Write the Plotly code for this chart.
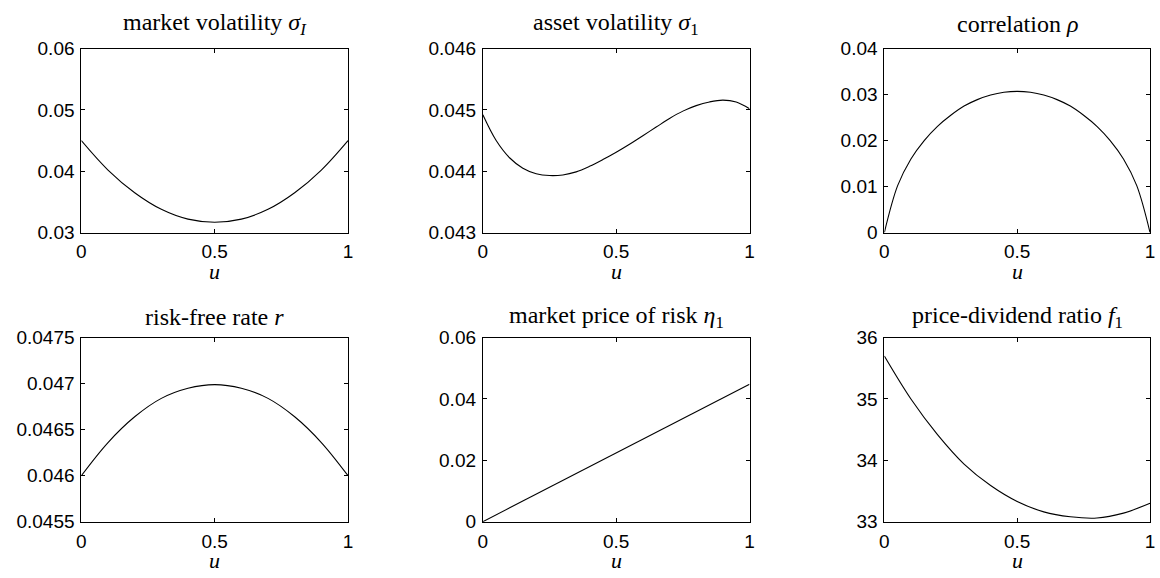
import plotly.graph_objects as go

W, H = 1160, 578

# ---- data ----
u_grid = [0.0, 0.1, 0.2, 0.3, 0.4, 0.5, 0.6, 0.7, 0.8, 0.9, 1.0]

sigma_I = [0.0450, 0.0402, 0.0365, 0.0338, 0.0322, 0.0317, 0.0322, 0.0338, 0.0365, 0.0402, 0.0450]

u_sigma1 = [0.0, 0.05, 0.1, 0.15, 0.2, 0.25, 0.3, 0.35, 0.4, 0.45, 0.5, 0.55, 0.6, 0.65,
            0.7, 0.75, 0.8, 0.85, 0.9, 0.95, 1.0]
sigma_1 = [0.04492, 0.04450, 0.04422, 0.04405, 0.04396, 0.04393, 0.04394, 0.04399, 0.04408,
           0.04419, 0.04431, 0.04444, 0.04458, 0.04472, 0.04486, 0.04498, 0.04507, 0.04513,
           0.04516, 0.04513, 0.04502]

u_rho = [0.0, 0.05, 0.1, 0.15, 0.2, 0.25, 0.3, 0.35, 0.4, 0.45, 0.5,
         0.55, 0.6, 0.65, 0.7, 0.75, 0.8, 0.85, 0.9, 0.95, 1.0]
rho = [0.0, 0.0102, 0.0160, 0.0200, 0.0231, 0.0255, 0.0275, 0.0289, 0.0299, 0.0305, 0.0307,
       0.0305, 0.0299, 0.0289, 0.0275, 0.0255, 0.0231, 0.0200, 0.0160, 0.0102, 0.0]

r_rate = [0.04600, 0.04636, 0.04664, 0.04684, 0.04695, 0.04699, 0.04695, 0.04684, 0.04664, 0.04636, 0.04600]

u_eta = [0.0, 1.0]
eta_1 = [0.0, 0.0448]

f_1 = [35.70, 35.00, 34.42, 33.94, 33.59, 33.33, 33.16, 33.08, 33.06, 33.14, 33.30]

titles = ["market volatility <i>σ</i><sub><i>I</i></sub>",
          "asset volatility <i>σ</i><sub>1</sub>",
          "correlation <i>ρ</i>",
          "risk-free rate <i>r</i>",
          "market price of risk <i>η</i><sub>1</sub>",
          "price-dividend ratio <i>f</i><sub>1</sub>"]

y_ticks = [[0.03, 0.04, 0.05, 0.06],
           [0.043, 0.044, 0.045, 0.046],
           [0, 0.01, 0.02, 0.03, 0.04],
           [0.0455, 0.046, 0.0465, 0.047, 0.0475],
           [0, 0.02, 0.04, 0.06],
           [33, 34, 35, 36]]
y_ticklabels = [["0.03", "0.04", "0.05", "0.06"],
                ["0.043", "0.044", "0.045", "0.046"],
                ["0", "0.01", "0.02", "0.03", "0.04"],
                ["0.0455", "0.046", "0.0465", "0.047", "0.0475"],
                ["0", "0.02", "0.04", "0.06"],
                ["33", "34", "35", "36"]]
x_ticks = [0, 0.5, 1]
x_ticklabels = ["0", "0.5", "1"]

series = [(u_grid, sigma_I), (u_sigma1, sigma_1), (u_rho, rho),
          (u_grid, r_rate), (u_eta, eta_1), (u_grid, f_1)]

# ---- layout geometry (pixels) ----
col_px = [(77, 346), (482, 751), (887, 1155)]
row_px = [(40, 231), (340, 531)]
title_gap = [25, 21]

fig = go.Figure()
layout = dict(width=W, height=H, margin=dict(l=0, r=0, t=0, b=0),
              paper_bgcolor="white", plot_bgcolor="white", showlegend=False)
annotations = []
tickfont = dict(family="Liberation Sans, Arial, sans-serif", size=19, color="black")
serif = "Liberation Serif, Times New Roman, serif"

for i, (xs, ys) in enumerate(series):
    r, c = divmod(i, 3)
    n = i + 1
    xa = "x" if n == 1 else f"x{n}"
    ya = "y" if n == 1 else f"y{n}"
    fig.add_trace(go.Scatter(x=xs, y=ys, mode="lines", xaxis=xa, yaxis=ya,
                             line=dict(color="black", width=1.1, shape="spline", smoothing=1.0),
                             hoverinfo="skip"))
    x0, x1 = col_px[c]
    y0, y1 = row_px[r]
    xdom = [x0 / W, x1 / W]
    ydom = [1 - y1 / H, 1 - y0 / H]
    common = dict(showline=True, linecolor="black", linewidth=1, mirror="ticks",
                  ticks="inside", ticklen=4, tickcolor="black", tickwidth=1,
                  showgrid=False, zeroline=False, tickfont=tickfont)
    layout[f"xaxis{'' if n == 1 else n}"] = dict(
        domain=xdom, range=[0, 1], anchor=ya, tickvals=x_ticks, ticktext=x_ticklabels,
        ticklabelstandoff=2, **common)
    yt = y_ticks[i]
    layout[f"yaxis{'' if n == 1 else n}"] = dict(
        domain=ydom, range=[yt[0], yt[-1]], anchor=xa, tickvals=yt, ticktext=y_ticklabels[i],
        ticklabelstandoff=2, **common)
    cx = (xdom[0] + xdom[1]) / 2
    annotations.append(dict(text=titles[i], x=cx, y=1 - (y0 - title_gap[r]) / H,
                            xref="paper", yref="paper",
                            xanchor="center", yanchor="middle", showarrow=False,
                            font=dict(family=serif, size=24, color="black")))
    annotations.append(dict(text="<i>u</i>", x=cx, y=1 - (y1 + 40) / H, xref="paper", yref="paper",
                            xanchor="center", yanchor="middle", showarrow=False,
                            font=dict(family=serif, size=22, color="black")))

layout["annotations"] = annotations
fig.update_layout(**layout)
fig.write_html("out.html")
